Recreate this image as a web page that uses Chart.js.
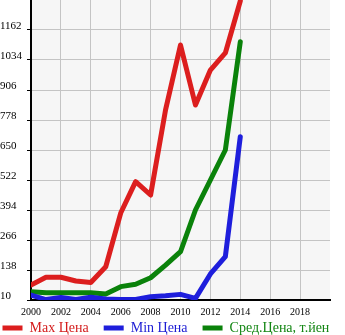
<!DOCTYPE html>
<html>
<head>
<meta charset="utf-8">
<script src="https://cdn.jsdelivr.net/npm/chart.js@4/dist/chart.umd.min.js"></script>
<style>
  html, body { margin: 0; padding: 0; background: #fff; }
  #wrap { width: 345px; height: 335px; position: relative; }
</style>
</head>
<body>
<div id="wrap"><canvas id="chart_1"></canvas></div>
<script>
const years = [2000, 2001, 2002, 2003, 2004, 2005, 2006, 2007, 2008, 2009, 2010, 2011, 2012, 2013, 2014];
const maxPrice = [74, 107, 107, 91, 85, 152, 381, 515, 458, 821, 1098, 842, 991, 1064, 1286];
const minPrice = [31, 12, 21, 12, 22, 14, 12, 12, 24, 28, 34, 17, 121, 195, 707];
const avgPrice = [45, 41, 41, 41, 41, 36, 67, 77, 105, 159, 216, 394, 522, 650, 1112];

const seriesNames = ['Max Цена', 'Min Цена', 'Сред.Цена, т.йен'];
const lineColors = ['#dc1e1e', '#1e1edc', '#0a820a'];
const textColors = ['#d41c1c', '#1c1cd4', '#138613'];

const yMin = 10, yMax = 1290, yStep = 128;
const xMin = 2000, xMax = 2020, xStep = 2;

const fontFamily = '"Liberation Serif", "Times New Roman", serif';

// light grey fill behind the plot area
const plotBg = {
    id: 'plotBg',
    beforeDraw(chart) {
        const { ctx, chartArea: a } = chart;
        ctx.save();
        ctx.fillStyle = '#f6f6f6';
        ctx.fillRect(a.left, a.top, a.right - a.left, a.bottom - a.top);
        ctx.restore();
    }
};

// keep the legend on one row, flush left and tucked under the year labels
const legendRow = {
    id: 'legendRow',
    beforeLayout(chart) {
        const lg = chart.legend;
        if (lg && !lg._wide) {
            const update = lg.update.bind(lg);
            lg.update = (w, h, m) => update(w + 30, h, m);
            lg._wide = true;
        }
    },
    afterLayout(chart) {
        const lg = chart.legend;
        lg.left -= 12.5;
        lg.right += 20;
        lg.top -= 14;
        lg.bottom -= 14;
    }
};

new Chart(document.getElementById('chart_1'), {
    type: 'line',
    data: {
        datasets: seriesNames.map((name, i) => ({
            label: name,
            data: [maxPrice, minPrice, avgPrice][i].map((v, k) => ({ x: years[k], y: v })),
            borderColor: lineColors[i],
            backgroundColor: lineColors[i],
            borderWidth: 5,
            borderCapStyle: 'round',
            borderJoinStyle: 'round',
            pointRadius: 0,
            tension: 0
        }))
    },
    options: {
        responsive: true,
        maintainAspectRatio: false,
        animation: false,
        layout: { padding: { top: 0, right: 15, left: 0, bottom: -24 } },
        scales: {
            x: {
                type: 'linear',
                min: xMin,
                max: xMax,
                afterBuildTicks(scale) {
                    scale.ticks = scale.ticks.filter(t => t.value < xMax);
                },
                afterFit(scale) {
                    scale.height = 20;
                    scale.paddingLeft = 0;
                    scale.paddingRight = 0;
                },
                ticks: {
                    stepSize: xStep,
                    color: '#000',
                    padding: 6,
                    maxRotation: 0,
                    callback: v => String(v),
                    font: { family: fontFamily, size: 10 }
                },
                grid: { color: '#c4c4c4', lineWidth: 1, drawTicks: false },
                border: { color: '#000', width: 2 }
            },
            y: {
                min: yMin,
                max: yMax,
                afterBuildTicks(scale) {
                    scale.ticks = scale.ticks.filter(t => t.value < yMax);
                },
                afterFit(scale) {
                    scale.width = 31;
                    scale.paddingTop = 0;
                    scale.paddingBottom = 0;
                },
                ticks: {
                    stepSize: yStep,
                    color: '#000',
                    crossAlign: 'far',
                    labelOffset: -4,
                    padding: 2,
                    callback: v => String(v),
                    font: { family: fontFamily, size: 11 }
                },
                grid: { color: '#c4c4c4', lineWidth: 1, tickLength: 4, tickColor: '#000' },
                border: { color: '#000', width: 2 }
            }
        },
        plugins: {
            legend: {
                position: 'bottom',
                align: 'start',
                labels: {
                    usePointStyle: true,
                    pointStyle: 'line',
                    pointStyleWidth: 20,
                    padding: 15,
                    font: { family: fontFamily, size: 14 },
                    generateLabels(chart) {
                        const items = Chart.defaults.plugins.legend.labels.generateLabels(chart);
                        items.forEach((it, i) => { it.fontColor = textColors[i]; it.lineWidth = 5; });
                        return items;
                    }
                }
            },
            tooltip: { enabled: false }
        }
    },
    plugins: [plotBg, legendRow]
});
</script>
</body>
</html>
